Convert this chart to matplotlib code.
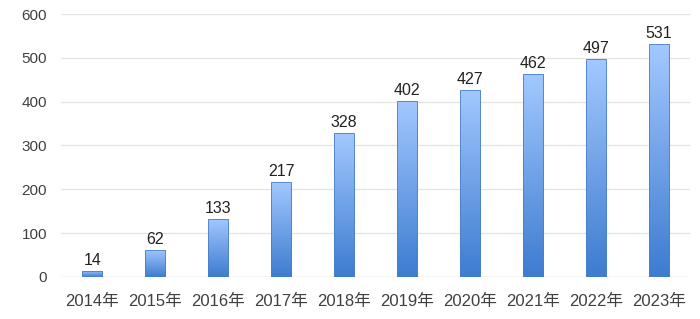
import numpy as np
import matplotlib
matplotlib.use('Agg')
import matplotlib.pyplot as plt
from matplotlib.colors import LinearSegmentedColormap

years = ['2014年', '2015年', '2016年', '2017年', '2018年',
         '2019年', '2020年', '2021年', '2022年', '2023年']
values = [14, 62, 133, 217, 328, 402, 427, 462, 497, 531]

plt.rcParams['font.family'] = ['Liberation Sans', 'Noto Sans CJK SC', 'DejaVu Sans']

fig = plt.figure(figsize=(7, 3.19), dpi=100)
ax = fig.add_axes([0.087, 0.132, 0.899, 0.824])

cmap = LinearSegmentedColormap.from_list('bluegrad', ['#3d7cd0', '#a3c8ff'])
grad = np.linspace(0, 1, 256).reshape(-1, 1)
width = 0.32

bars = ax.bar(range(len(years)), values, width=width, color='none',
              edgecolor='#4a7fc8', linewidth=0.6, zorder=3)
for b in bars:
    x0, y0 = b.get_x(), b.get_y()
    w, h = b.get_width(), b.get_height()
    im = ax.imshow(grad, cmap=cmap, origin='lower', aspect='auto',
                   extent=[x0, x0 + w, y0, y0 + h], zorder=2)
    im.set_clip_path(b)

for i, v in enumerate(values):
    ax.text(i, v + 7, str(v), ha='center', va='bottom', fontsize=11.5, color='#222222')

ax.set_xlim(-0.5, len(years) - 0.5)
ax.set_ylim(0, 600)
ax.set_yticks(range(0, 601, 100))
ax.set_xticks(range(len(years)))
ax.set_xticklabels(years)
ax.tick_params(axis='both', length=0, colors='#404040')
ax.tick_params(axis='y', pad=10, labelsize=11)
ax.tick_params(axis='x', pad=12, labelsize=12)
ax.grid(axis='y', color='#e4e4e4', linewidth=0.9, zorder=0)
for s in ax.spines.values():
    s.set_visible(False)
ax.axhline(0, color='#d9d9d9', linewidth=0.9, zorder=1)

fig.savefig('out.png', dpi=100)
